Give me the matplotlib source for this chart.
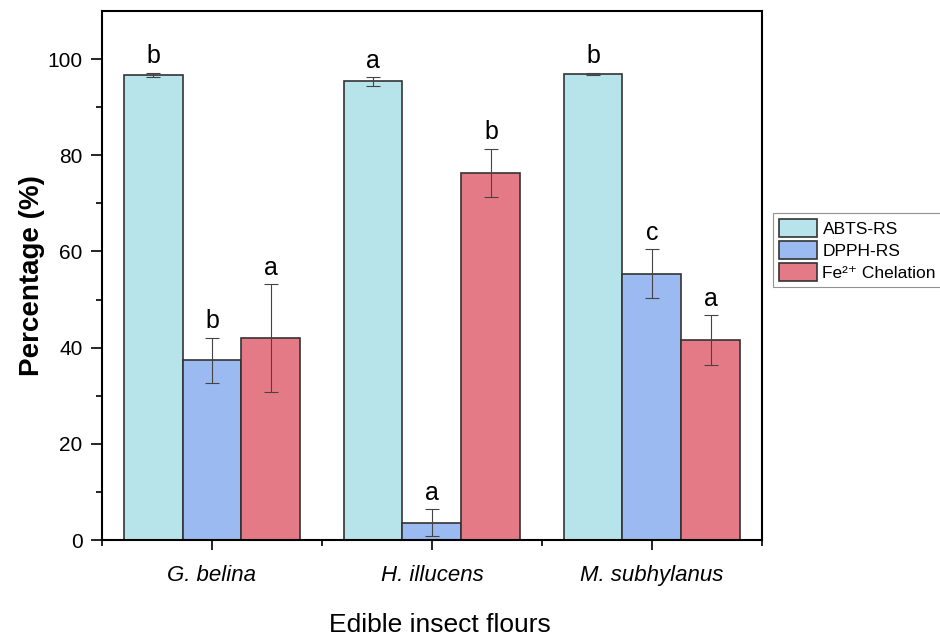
import matplotlib
matplotlib.use("Agg")
import matplotlib.pyplot as plt
import numpy as np
from matplotlib.patches import Patch

plt.rcParams['font.family'] = ['Liberation Sans', 'DejaVu Sans']

categories = ["G. belina", "H. illucens", "M. subhylanus"]
series = ["ABTS-RS", "DPPH-RS", "Fe²⁺ Chelation"]
abts = [96.7, 95.4, 96.9]
abts_err = [0.5, 0.9, 0.3]
dpph = [37.4, 3.6, 55.4]
dpph_err = [4.7, 2.8, 5.1]
fe = [42.0, 76.4, 41.6]
fe_err = [11.2, 5.0, 5.2]
abts_letters = ["b", "a", "b"]
dpph_letters = ["b", "a", "c"]
fe_letters = ["a", "b", "a"]

colors = ["#B6E4EA", "#9BBAF2", "#E57A87"]

fig = plt.figure(figsize=(9.4, 6.38), dpi=100)
ax = fig.add_axes([0.1085, 0.1536, 0.8106 - 0.1085, 0.9828 - 0.1536])

x = np.arange(1, len(categories) + 1)
w = 0.268
vals = [abts, dpph, fe]
errs = [abts_err, dpph_err, fe_err]
letters = [abts_letters, dpph_letters, fe_letters]
for i, (v, e, l, c) in enumerate(zip(vals, errs, letters, colors)):
    pos = x + (i - 1) * w
    ax.bar(pos, v, width=w, color=c, edgecolor="#333333", linewidth=1.2, zorder=2)
    ax.errorbar(pos, v, yerr=e, fmt="none", ecolor="#444444", elinewidth=0.8,
                capsize=5, capthick=0.8, zorder=3)
    for p, vv, ee, ll in zip(pos, v, e, l):
        ax.text(p, vv + ee + 0.9, ll, ha="center", va="bottom", fontsize=18)

ax.set_xlim(0.5, 3.5)
ax.set_ylim(0, 110)
ax.set_xticks(x)
ax.set_xticklabels(categories, fontsize=16, style="italic")
ax.set_xticks([0.5, 1.5, 2.5, 3.5], minor=True)
ax.set_yticks([0, 20, 40, 60, 80, 100])
ax.set_yticks([10, 30, 50, 70, 90], minor=True)
ax.tick_params(axis="y", which="major", labelsize=15, length=8, width=1.2, pad=6)
ax.tick_params(axis="y", which="minor", length=4, width=1.2)
ax.tick_params(axis="x", which="major", length=7, width=1.2, pad=11)
ax.tick_params(axis="x", which="minor", length=4, width=1.2)
for s in ax.spines.values():
    s.set_linewidth(1.5)

ax.set_ylabel("Percentage (%)", fontsize=20, fontweight="bold", labelpad=2)
fig.text(440 / 940, 1 - 625 / 638, "Edible insect flours", fontsize=19,
         ha="center", va="center")

handles = [Patch(facecolor=c, edgecolor="#333333", linewidth=1.2) for c in colors]
leg = fig.legend(handles, series, loc="upper left", bbox_to_anchor=(773 / 940, 1 - 213 / 638),
                 fontsize=12.5, frameon=True, fancybox=False, edgecolor="#777777",
                 handlelength=2.2, handleheight=1.2, handletextpad=0.3,
                 borderpad=0.35, labelspacing=0.25, borderaxespad=0)
leg.get_frame().set_linewidth(0.8)

fig.savefig("out.png", dpi=100)
